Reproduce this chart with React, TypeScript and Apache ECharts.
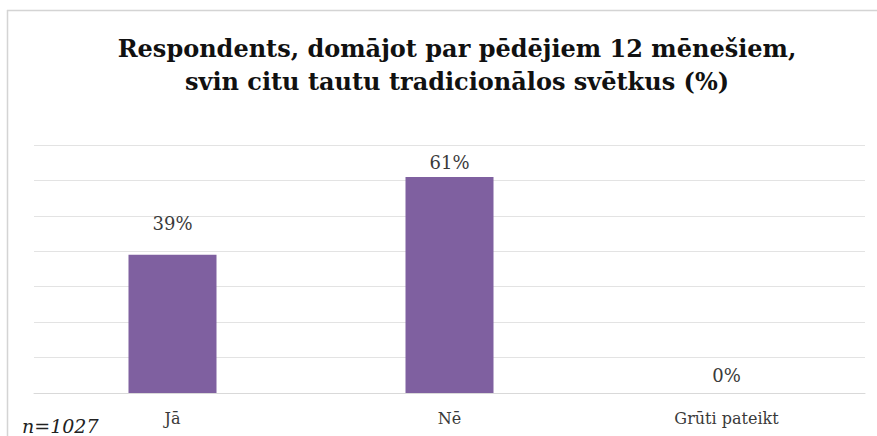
import React, { useEffect, useRef } from "react";
import * as echarts from "echarts";

const categories = ["Jā", "Nē", "Grūti pateikt"];
const values = [39, 61, 0];
const titleLines = [
  "Respondents, domājot par pēdējiem 12 mēnešiem,",
  "svin citu tautu tradicionālos svētkus (%)",
];
const noteText = "n=1027";

// label offsets above each bar (layout only)
const labelGaps = [22, 5, 9];

export default function App() {
  const ref = useRef<HTMLDivElement>(null);
  useEffect(() => {
    if (!ref.current) return;
    const chart = echarts.init(ref.current, undefined, { renderer: "svg" });
    chart.setOption({
      animation: false,
      backgroundColor: "#ffffff",
      title: {
        text: titleLines.join("\n"),
        left: 452,
        textAlign: "center",
        top: 27,
        textStyle: {
          fontFamily: "DejaVu Serif",
          fontWeight: "bold",
          fontSize: 24,
          lineHeight: 33,
          color: "#111111",
        },
      },
      grid: { left: 34, right: 12, top: 145, bottom: 43 },
      xAxis: {
        type: "category",
        data: categories,
        axisLine: { show: true, lineStyle: { color: "#d9d9d9", width: 1 } },
        axisTick: { show: false },
        axisLabel: {
          margin: 17,
          fontFamily: "DejaVu Serif",
          fontSize: 16,
          color: "#3a3a3a",
        },
      },
      yAxis: {
        type: "value",
        min: 0,
        max: 70,
        interval: 10,
        axisLabel: { show: false },
        axisLine: { show: false },
        axisTick: { show: false },
        splitLine: { lineStyle: { color: "#e3e3e3", width: 1 } },
      },
      series: [
        {
          type: "bar",
          barWidth: 88,
          itemStyle: { color: "#7f60a0" },
          data: values.map((v, i) => ({
            value: v,
            label: {
              show: true,
              position: "top",
              distance: labelGaps[i],
              formatter: "{c}%",
              fontFamily: "DejaVu Serif",
              fontSize: 18,
              color: "#3a3a3a",
            },
          })),
        },
      ],
      graphic: [
        {
          type: "line",
          shape: { x1: 7, y1: 10.5, x2: 877, y2: 10.5 },
          style: { stroke: "#d4d4d4", lineWidth: 1.5 },
        },
        {
          type: "line",
          shape: { x1: 7.5, y1: 10, x2: 7.5, y2: 436 },
          style: { stroke: "#d4d4d4", lineWidth: 1.5 },
        },
        {
          type: "text",
          left: 22,
          top: 416,
          style: {
            text: noteText,
            fontFamily: "DejaVu Serif",
            fontStyle: "italic",
            fontSize: 19,
            fill: "#222222",
          },
        },
      ],
    });
    return () => chart.dispose();
  }, []);
  return (
    <div
      ref={ref}
      style={{ position: "fixed", left: 0, top: 0, width: 877, height: 436 }}
    />
  );
}
